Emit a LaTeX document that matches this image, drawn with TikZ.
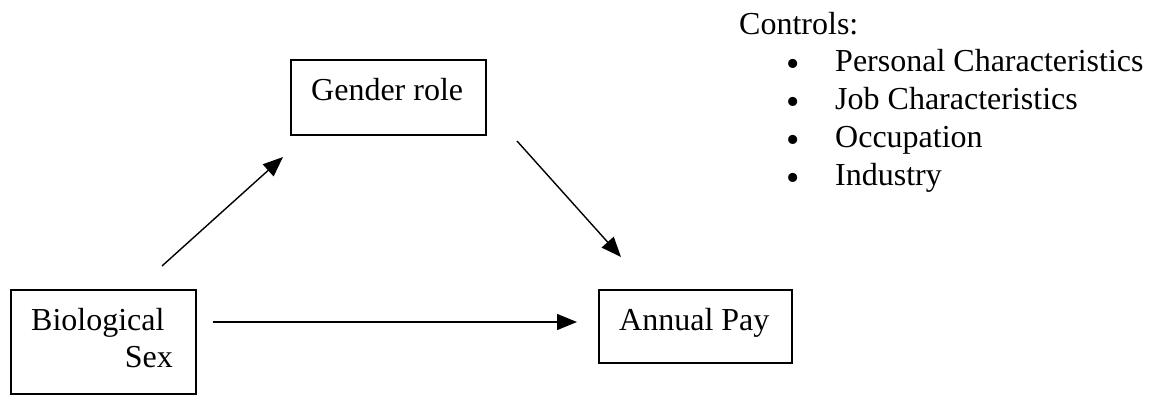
\documentclass[tikz,border=0pt]{standalone}
\usepackage{fontspec}
\setmainfont{Liberation Serif}
\usetikzlibrary{arrows.meta}
\tikzset{
  boxshape/.style={draw, line width=2.2pt, rectangle, inner sep=0pt, anchor=north west},
  lbl/.style={inner sep=0pt, font=\fontsize{32}{38}\selectfont},
  bul/.style={inner sep=0pt, anchor=base west, font=\fontsize{38}{38}\selectfont},
  conn/.style={line width=1.4pt, -{Triangle[length=20pt,width=16pt]}}
}
\begin{document}
\begin{tikzpicture}[x=1pt,y=-1pt]
\useasboundingbox (0,0) rectangle (1153,394);
% boxes
\node[boxshape, minimum width=185pt, minimum height=104pt] (bio) at (10,289) {};
\node[boxshape, minimum width=195pt, minimum height=75pt] (gen) at (290,59) {};
\node[boxshape, minimum width=193pt, minimum height=73pt] (pay) at (598,289) {};
% texts
\node[lbl, anchor=base west] (biot1) at (31,330) {Biological};
\node[lbl, anchor=base east] (biot2) at (173,367) {Sex};
\node[lbl, anchor=base west] (gent) at (311,100) {Gender role};
\node[lbl, anchor=base west] (payt) at (619,330) {Annual Pay};
% controls
\node[lbl, anchor=base west] (ctl) at (739,34) {Controls:};
\node[bul] (b1) at (786,76) {•};
\node[lbl, anchor=base west] (c1) at (835,71) {Personal Characteristics};
\node[bul] (b2) at (786,114) {•};
\node[lbl, anchor=base west] (c2) at (835,109) {Job Characteristics};
\node[bul] (b3) at (786,152) {•};
\node[lbl, anchor=base west] (c3) at (835,147) {Occupation};
\node[bul] (b4) at (786,190) {•};
\node[lbl, anchor=base west] (c4) at (835,185) {Industry};
% connector endpoints
\coordinate (a1s) at (162,266);
\coordinate (a1e) at (283,157);
\coordinate (a2s) at (517,141);
\coordinate (a2e) at (621,257);
\coordinate (a3s) at (213,322);
\coordinate (a3e) at (577,322);
\draw[conn] (a1s) -- (a1e);
\draw[conn] (a2s) -- (a2e);
\draw[conn] (a3s) -- (a3e);
\end{tikzpicture}
\end{document}
